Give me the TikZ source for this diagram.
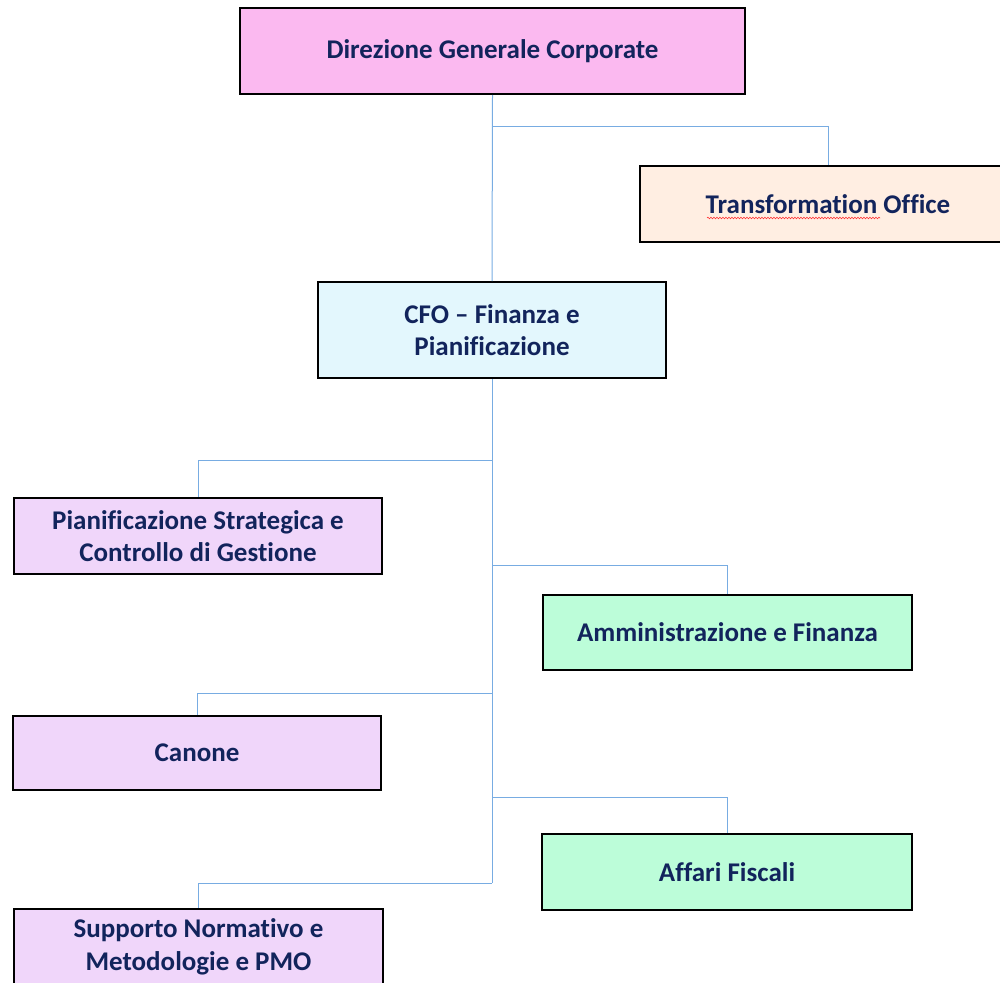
\documentclass[tikz,border=0pt]{standalone}
\usepackage{fontspec}
\setmainfont{Carlito}[Ligatures={NoCommon}]
\usetikzlibrary{decorations.pathmorphing}
\definecolor{ink}{RGB}{18,36,92}
\definecolor{link}{RGB}{120,172,226}
\definecolor{fpink}{RGB}{251,185,240}
\definecolor{fpeach}{RGB}{255,238,226}
\definecolor{fcyan}{RGB}{227,247,253}
\definecolor{flilac}{RGB}{240,214,250}
\definecolor{fmint}{RGB}{188,253,217}
\tikzset{
  unit/.style={draw=black, line width=2pt, text=ink, align=center,
    font=\fontsize{27}{32.5}\selectfont\bfseries, inner sep=0pt},
  conn/.style={draw=link, line width=1pt},
}
\begin{document}
\begin{tikzpicture}[x=1pt,y=-1pt]
\useasboundingbox (0,0) rectangle (1000,982);
\clip (0,0) rectangle (1000,982);

% connectors
\coordinate (j0) at (492,126);
\coordinate (j1) at (492,460);
\coordinate (j2) at (492,565);
\coordinate (j3) at (492,693);
\coordinate (j4) at (492,797);
\coordinate (j5) at (492,883);

% units
\node[unit, fill=fpink, minimum width=505, minimum height=86] (dir) at (492.5,51) {Direzione Generale Corporate};
\node[unit, fill=fpeach, minimum width=376, minimum height=76] (tro) at (828,204) {Transformation Office};
\node[unit, fill=fcyan, minimum width=348, minimum height=96] (cfo) at (492,330) {CFO -- Finanza e\\Pianificazione};
\node[unit, fill=flilac, minimum width=368, minimum height=76] (psc) at (198,536) {Pianificazione Strategica e\\Controllo di Gestione};
\node[unit, fill=fmint, minimum width=369, minimum height=75] (amm) at (727.5,632.5) {Amministrazione e Finanza};
\node[unit, fill=flilac, minimum width=368, minimum height=74] (can) at (197,753) {Canone};
\node[unit, fill=fmint, minimum width=370, minimum height=76] (aff) at (727,872) {Affari Fiscali};
\node[unit, fill=flilac, minimum width=369, minimum height=76] (sup) at (198.5,947) {Supporto Normativo e\\Metodologie e PMO};

% spelling squiggle under "Transformation"
\coordinate (sqa) at (707,218);
\coordinate (sqb) at (880,218);
\draw[red!80, line width=0.6pt, decorate, decoration={snake, amplitude=0.8pt, segment length=3pt}] (sqa) -- (sqb);

\draw[conn] (dir.south) -- (cfo.north);
\draw[conn] (j0) -| (tro.north);
\draw[conn] (cfo.south) -- (j5);
\draw[conn] (j1) -| (psc.north);
\draw[conn] (j2) -| (amm.north);
\draw[conn] (j3) -| (can.north);
\draw[conn] (j4) -| (aff.north);
\draw[conn] (j5) -| (sup.north);
\end{tikzpicture}
\end{document}
